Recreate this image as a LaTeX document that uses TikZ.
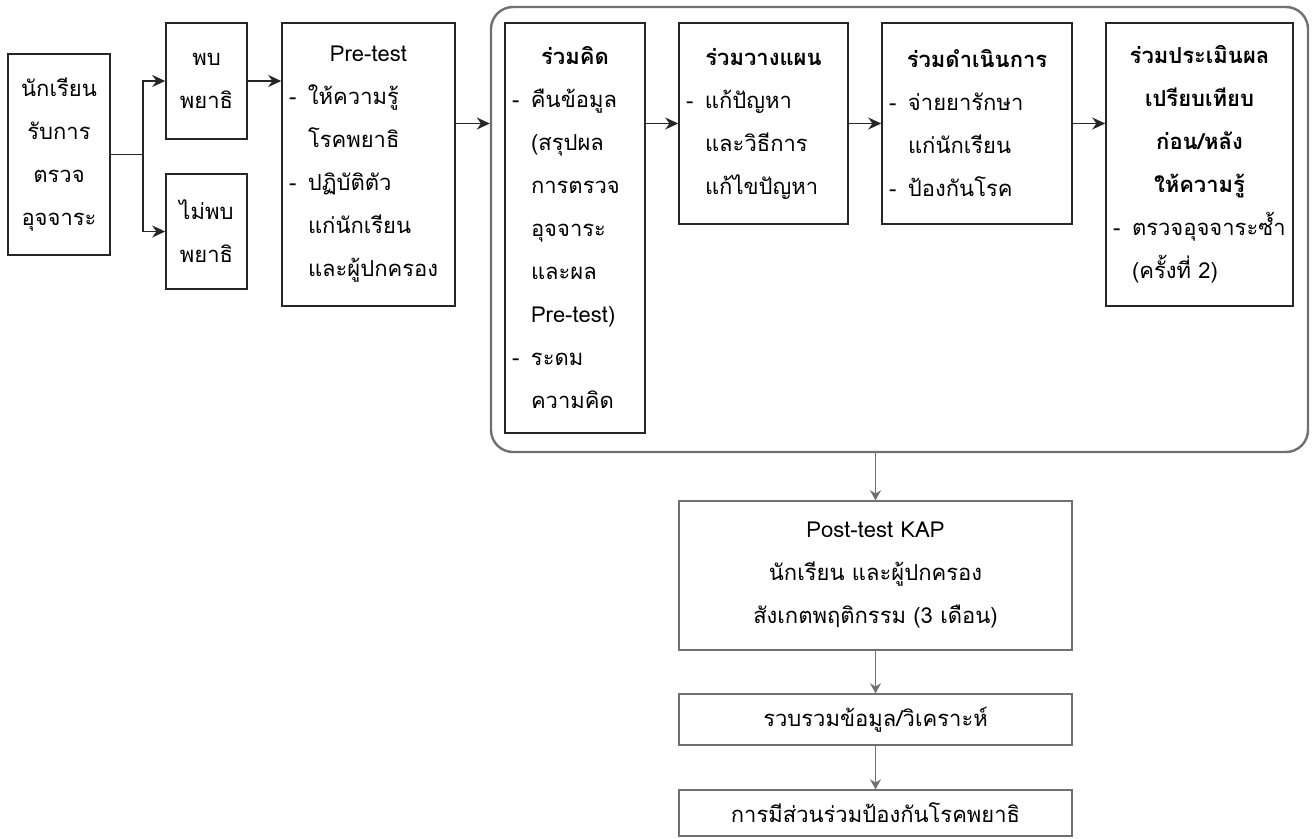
\documentclass[tikz,border=0pt]{standalone}
\usepackage{fontspec}
\setmainfont[Script=Thai]{Loma}
\usetikzlibrary{arrows.meta}

\definecolor{framegray}{RGB}{112,112,112}
\newcommand{\dashline}[1]{\par{\let\\\newline\hangindent=19pt\hangafter=1\noindent\makebox[19pt][l]{-}#1\par}}

\begin{document}
\begin{tikzpicture}[x=1pt,y=-1pt,
box/.style={draw=black!85, line width=1.6pt, inner xsep=7pt, inner ysep=0pt,
  font=\fontsize{22}{43}\selectfont},
lowbox/.style={box, draw=framegray, line width=1.4pt},
group/.style={draw=framegray, line width=2.4pt, rounded corners=22pt},
link/.style={draw=black!85, line width=1.6pt},
flow/.style={link, -{Stealth[length=13pt,width=12pt]}},
down/.style={draw=framegray, line width=1.6pt, -{Stealth[length=10pt,width=11pt]}}
]
\useasboundingbox (0,0) rectangle (1316,838);

% left part
\node[box, text width=88pt, minimum height=201pt, align=center] (nak) at (59,154.5)
  {นักเรียน\\รับการ\\ตรวจ\\อุจจาระ};
\node[box, text width=67pt, minimum height=116pt, align=center] (pb) at (206.5,81)
  {พบ\\พยาธิ};
\node[box, text width=67pt, minimum height=115pt, align=center] (mpb) at (206.5,231.5)
  {ไม่พบ\\พยาธิ};
\node[box, text width=159pt, minimum height=283pt] (pretest) at (368.5,164.5)
  {{\centering Pre-test\par}\raggedright
   \dashline{ให้ความรู้\\โรคพยาธิ}\dashline{ปฏิบัติตัว\\แก่นักเรียน\\และผู้ปกครอง}};

% participation group
\node[group, minimum width=817pt, minimum height=445pt] (group) at (899.5,229.5) {};
\node[box, text width=126pt, minimum height=410pt] (think) at (575,228)
  {{\centering\bfseries ร่วมคิด\par}\raggedright
   \dashline{คืนข้อมูล\\(สรุปผล\\การตรวจ\\อุจจาระ\\และผล\\Pre-test)}\dashline{ระดม\\ความคิด}};
\node[box, text width=155pt, minimum height=201pt] (plan) at (763.5,123.5)
  {{\centering\bfseries ร่วมวางแผน\par}\raggedright
   \dashline{แก้ปัญหา\\และวิธีการ\\แก้ไขปัญหา}};
\node[box, text width=176pt, minimum height=201pt] (act) at (977,123.5)
  {{\centering\bfseries ร่วมดำเนินการ\par}\raggedright
   \dashline{จ่ายยารักษา\\แก่นักเรียน}\dashline{ป้องกันโรค}};
\node[box, text width=173pt, minimum height=283pt] (eval) at (1199.5,164.5)
  {{\centering\bfseries ร่วมประเมินผล\\เปรียบเทียบ\\ก่อน/หลัง\\ให้ความรู้\par}\raggedright
   \dashline{ตรวจอุจจาระซ้ำ\\(ครั้งที่ 2)}};

% lower part
\node[lowbox, text width=379pt, minimum height=149pt, align=center] (post) at (875.5,575.5)
  {Post-test KAP\\นักเรียน และผู้ปกครอง\\สังเกตพฤติกรรม (3 เดือน)};
\node[lowbox, text width=379pt, minimum height=51pt, align=center] (collect) at (875.5,719.5)
  {รวบรวมข้อมูล/วิเคราะห์};
\node[lowbox, text width=379pt, minimum height=46pt, align=center] (part) at (875.5,813)
  {การมีส่วนร่วมป้องกันโรคพยาธิ};

% connectors
\draw[link] (nak.east) -- ++(32,0) coordinate (split);
\draw[flow] (split) |- (pb.west);
\draw[flow] (split) |- (mpb.west);
\draw[flow] (pb.east) -- (pb.east -| pretest.west);
\draw[flow] (pretest.east |- plan.west) -- (group.west |- plan.west);
\draw[flow] (think.east |- plan.west) -- (plan.west);
\draw[flow] (plan.east) -- (act.west);
\draw[flow] (act.east) -- (act.east -| eval.west);

\draw[down] (post.north |- group.south) -- (post.north);
\draw[down] (post.south) -- (collect.north);
\draw[down] (collect.south) -- (part.north);
\end{tikzpicture}
\end{document}
